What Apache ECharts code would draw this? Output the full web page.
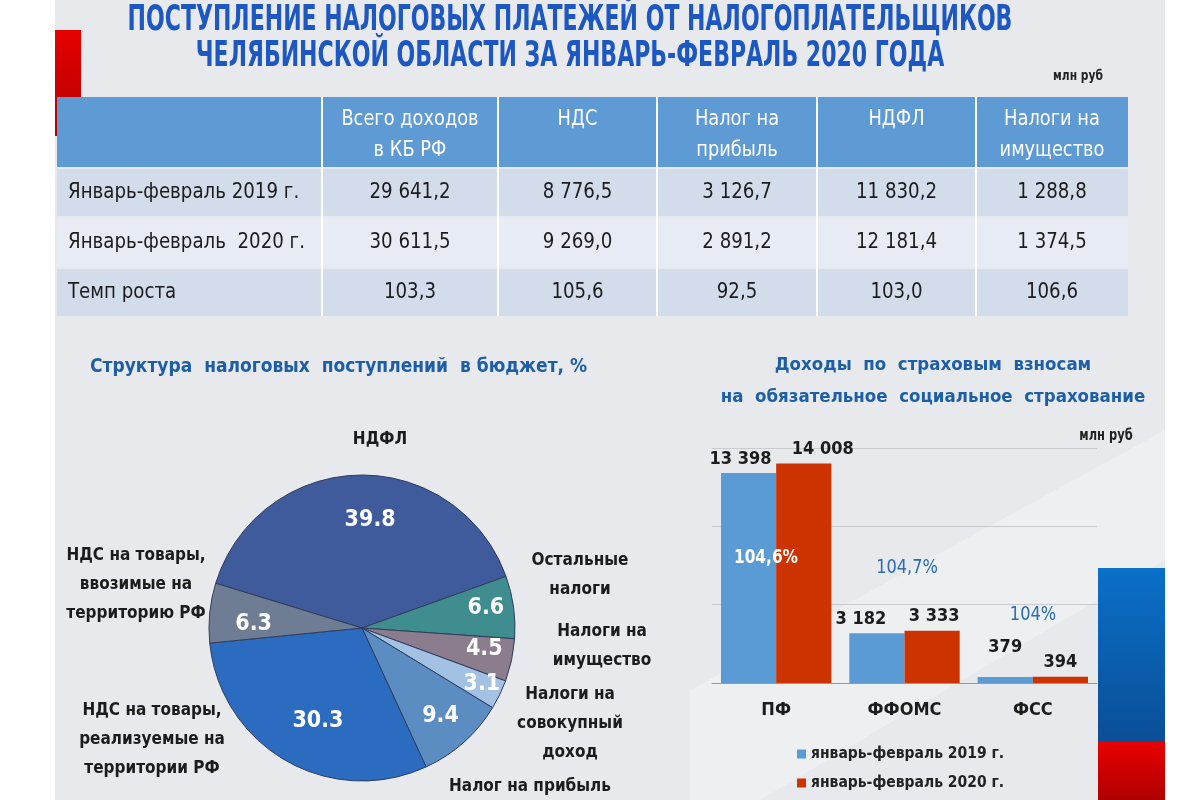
<!DOCTYPE html>
<html><head><meta charset="utf-8">
<script src="https://cdn.jsdelivr.net/npm/echarts@6/dist/echarts.min.js"></script>
<style>html,body{margin:0;padding:0;background:#fff}#c{width:1200px;height:800px}</style>
</head><body><div id="c"></div>
<script>
// ---------- DATA ----------
const titleLines = ['ПОСТУПЛЕНИЕ НАЛОГОВЫХ ПЛАТЕЖЕЙ ОТ НАЛОГОПЛАТЕЛЬЩИКОВ', 'ЧЕЛЯБИНСКОЙ ОБЛАСТИ ЗА ЯНВАРЬ-ФЕВРАЛЬ 2020 ГОДА'];
const unitLabel = 'млн руб';
const tableHeaders = ['', 'Всего доходов\nв КБ РФ', 'НДС', 'Налог на\nприбыль', 'НДФЛ', 'Налоги на\nимущество'];
const tableRowLabels = ['Январь-февраль 2019 г.', 'Январь-февраль  2020 г.', 'Темп роста'];
const row2019 = ['29 641,2', '8 776,5', '3 126,7', '11 830,2', '1 288,8'];
const row2020 = ['30 611,5', '9 269,0', '2 891,2', '12 181,4', '1 374,5'];
const rowGrowth = ['103,3', '105,6', '92,5', '103,0', '106,6'];

const pieTitle = 'Структура  налоговых  поступлений  в бюджет, %';
const pieNames = ['НДФЛ', 'Остальные\nналоги', 'Налоги на\nимущество', 'Налоги на\nсовокупный\nдоход', 'Налог на прибыль', 'НДС на товары,\nреализуемые на\nтерритории РФ', 'НДС на товары,\nввозимые на\nтерриторию РФ'];
const pieValues = [39.8, 6.6, 4.5, 3.1, 9.4, 30.3, 6.3];

const barTitle = 'Доходы  по  страховым  взносам\nна  обязательное  социальное  страхование';
const barCategories = ['ПФ', 'ФФОМС', 'ФСС'];
const seriesNames = ['январь-февраль 2019 г.', 'январь-февраль 2020 г.'];
const values2019 = [13398, 3182, 379];
const values2020 = [14008, 3333, 394];
const growthLabels = ['104,6%', '104,7%', '104%'];

// ---------- STYLE / LAYOUT ----------
const CF = "'Liberation Sans Narrow','DejaVu Sans Condensed',sans-serif";
const colEdges = [57, 322, 498, 657, 817, 976, 1128];
const headerBox = [97, 167];
const rowBoxes = [[169, 216], [218, 267], [269, 316]];
const rowFills = ['#d2dcea', '#e7ecf4', '#d2dcea'];
const pieColors = ['#3f5b9b', '#3f8d8e', '#8b7c8e', '#a3c1e3', '#5b8cc2', '#2b6cc0', '#6e7d93'];
const pieLabelAnchors = [[380, 440], [580, 575], [602, 646], [570, 724], [530, 787], [152, 740], [136, 585]];
const pieValueNudge = [[11, 13], [4, -3], [4, -4], [11, 3], [-2, -2], [16, -12], [12, 8]];
const barLabelOffsets2019 = [[-8, 0], [-16, 0], [0, -16]];
const barLabelOffsets2020 = [[19, 0], [2, 0], [0, 0]];
const growthStyle = [
  {x: 766, y: 558, fill: '#ffffff', font: 'bold 19px ' + CF},
  {x: 907, y: 568, fill: '#2b6cb5', font: '20px ' + CF},
  {x: 1033, y: 615, fill: '#2b6cb5', font: '20px ' + CF}
];

function fmt(v) { return String(v).replace(/\B(?=(\d{3})+(?!\d))/g, ' '); }

const graphics = [];
// page background
graphics.push({type: 'rect', z: -10, shape: {x: 55, y: 0, width: 1110, height: 800}, style: {fill: '#e8e9ec'}});
// lighter diagonal band in the bar area
graphics.push({type: 'polygon', z: -9, shape: {points: [[690, 800], [690, 690], [1165, 430], [1165, 560], [760, 800]]}, style: {fill: 'rgba(255,255,255,0.28)'}});
// decorative flag bars
graphics.push({type: 'rect', z: -5, shape: {x: 55, y: 30, width: 26, height: 106}, style: {fill: new echarts.graphic.LinearGradient(0, 0, 0, 1, [{offset: 0, color: '#e60000'}, {offset: 1, color: '#b30000'}])}});
graphics.push({type: 'rect', z: -5, shape: {x: 1098, y: 568, width: 67, height: 174}, style: {fill: new echarts.graphic.LinearGradient(0, 0, 0, 1, [{offset: 0, color: '#0a70c8'}, {offset: 1, color: '#0a4e96'}])}});
graphics.push({type: 'rect', z: -5, shape: {x: 1098, y: 742, width: 67, height: 58}, style: {fill: new echarts.graphic.LinearGradient(0, 0, 0, 1, [{offset: 0, color: '#e80000'}, {offset: 1, color: '#b00000'}])}});

// title (condensed look via horizontal scale)
titleLines.forEach(function (t, i) {
  graphics.push({type: 'text', x: 570, y: 21 + i * 36, scaleX: 0.68, style: {text: t, x: 0, y: 0, align: 'center', verticalAlign: 'middle', font: 'bold 36px ' + CF, fill: '#1c57c2'}});
});
graphics.push({type: 'text', x: 1078, y: 76, scaleX: 0.85, style: {text: unitLabel, x: 0, y: 0, align: 'center', verticalAlign: 'middle', font: 'bold 14px ' + CF, fill: '#222'}});
graphics.push({type: 'text', x: 1106, y: 436, scaleX: 0.85, style: {text: unitLabel, x: 0, y: 0, align: 'center', verticalAlign: 'middle', font: 'bold 15px ' + CF, fill: '#222'}});

// table
const tableRows = [row2019, row2020, rowGrowth];
graphics.push({type: 'rect', shape: {x: colEdges[0], y: headerBox[0], width: colEdges[6] - colEdges[0], height: headerBox[1] - headerBox[0]}, style: {fill: '#5e9bd4'}});
rowBoxes.forEach(function (b, r) {
  graphics.push({type: 'rect', shape: {x: colEdges[0], y: b[0], width: colEdges[6] - colEdges[0], height: b[1] - b[0]}, style: {fill: rowFills[r]}});
});
for (let c = 1; c < colEdges.length - 1; c++) {
  graphics.push({type: 'line', shape: {x1: colEdges[c], y1: headerBox[0], x2: colEdges[c], y2: rowBoxes[2][1]}, style: {stroke: '#ffffff', lineWidth: 2}});
}
tableHeaders.forEach(function (h, c) {
  if (!h) return;
  graphics.push({type: 'text', x: (colEdges[c] + colEdges[c + 1]) / 2, y: 104, scaleX: 0.9, style: {text: h, x: 0, y: 0, align: 'center', verticalAlign: 'top', font: '22px ' + CF, lineHeight: 31, fill: '#ffffff'}});
});
tableRows.forEach(function (row, r) {
  const cy = (rowBoxes[r][0] + rowBoxes[r][1]) / 2;
  graphics.push({type: 'text', x: 68, y: cy, scaleX: 0.92, style: {text: tableRowLabels[r], x: 0, y: 0, align: 'left', verticalAlign: 'middle', font: '22px ' + CF, fill: '#1c1c1c'}});
  row.forEach(function (v, c) {
    graphics.push({type: 'text', x: (colEdges[c + 1] + colEdges[c + 2]) / 2, y: cy, scaleX: 0.92, style: {text: v, x: 0, y: 0, align: 'center', verticalAlign: 'middle', font: '22px ' + CF, fill: '#1c1c1c'}});
  });
});

// growth annotations for bars
growthLabels.forEach(function (g, i) {
  const s = growthStyle[i];
  graphics.push({type: 'text', z: 100, x: s.x, y: s.y, scaleX: 0.9, style: {text: g, x: 0, y: 0, align: 'center', verticalAlign: 'middle', font: s.font, fill: s.fill}});
});

const pieData = pieNames.map(function (n, i) { return {name: n, value: pieValues[i], itemStyle: {color: pieColors[i]}}; });

const chart = echarts.init(document.getElementById('c'));
chart.setOption({
  animation: false,
  backgroundColor: '#ffffff',
  title: [
    {text: pieTitle, left: 85, top: 353, textStyle: {fontFamily: CF, fontWeight: 'bold', fontSize: 19, color: '#1d5fa6'}},
    {text: barTitle, left: 928, top: 344, textAlign: 'center', textStyle: {fontFamily: CF, fontWeight: 'bold', fontSize: 18.5, lineHeight: 32, color: '#1d5fa6', align: 'center'}}
  ],
  graphic: graphics,
  legend: {
    data: seriesNames, orient: 'vertical', left: 792, top: 741, itemWidth: 9, itemHeight: 9, itemGap: 13, icon: 'rect',
    textStyle: {fontFamily: CF, fontWeight: 'bold', fontSize: 15.5, color: '#222'}
  },
  grid: {left: 712, right: 103, top: 448, bottom: 117},
  xAxis: {
    type: 'category', data: barCategories,
    axisLine: {lineStyle: {color: '#9a9a9a'}}, axisTick: {length: 7, lineStyle: {color: '#9a9a9a'}},
    axisLabel: {margin: 18, fontFamily: CF, fontWeight: 'bold', fontSize: 18, color: '#1c1c1c'}
  },
  yAxis: {
    type: 'value', min: 0, max: 15000, interval: 5000, axisLabel: {show: false},
    axisLine: {show: false}, axisTick: {show: false},
    splitLine: {lineStyle: {color: '#c9cbd0'}}
  },
  series: [
    {
      type: 'bar', name: seriesNames[0], barGap: '0%', barCategoryGap: '14%',
      itemStyle: {color: '#5b9bd5'},
      data: values2019.map(function (v, i) { return {value: v, label: {offset: barLabelOffsets2019[i]}}; }),
      label: {show: true, position: 'top', distance: 5, formatter: function (p) { return fmt(p.value); }, fontFamily: CF, fontWeight: 'bold', fontSize: 18, color: '#1c1c1c'}
    },
    {
      type: 'bar', name: seriesNames[1],
      itemStyle: {color: '#cc3300'},
      data: values2020.map(function (v, i) { return {value: v, label: {offset: barLabelOffsets2020[i]}}; }),
      label: {show: true, position: 'top', distance: 5, formatter: function (p) { return fmt(p.value); }, fontFamily: CF, fontWeight: 'bold', fontSize: 18, color: '#1c1c1c'}
    },
    {
      type: 'pie', name: 'Структура', center: [362, 628], radius: 153, startAngle: 163, clockwise: true,
      data: pieData, itemStyle: {borderColor: '#2f3d5c', borderWidth: 1},
      label: {show: true, position: 'outside', formatter: '{b}', fontFamily: CF, fontWeight: 'bold', fontSize: 17, lineHeight: 29, color: '#1c1c1c'},
      labelLine: {show: false},
      labelLayout: function (p) { const a = pieLabelAnchors[p.dataIndex]; return {x: a[0], y: a[1], align: 'center', verticalAlign: 'middle'}; },
      emphasis: {disabled: true}, silent: true
    },
    {
      type: 'pie', name: 'Доли', center: [362, 628], radius: [92, 144], startAngle: 163, clockwise: true,
      data: pieValues.map(function (v, i) { return {name: pieNames[i], value: v}; }),
      itemStyle: {color: 'rgba(0,0,0,0)'},
      label: {show: true, position: 'inside', formatter: function (p) { return p.value.toFixed(1); }, fontFamily: CF, fontWeight: 'bold', fontSize: 23, color: '#ffffff'},
      labelLine: {show: false},
      labelLayout: function (p) { const d = pieValueNudge[p.dataIndex]; return {dx: d[0], dy: d[1]}; },
      emphasis: {disabled: true}, silent: true, z: 5
    }
  ]
});
</script></body></html>
